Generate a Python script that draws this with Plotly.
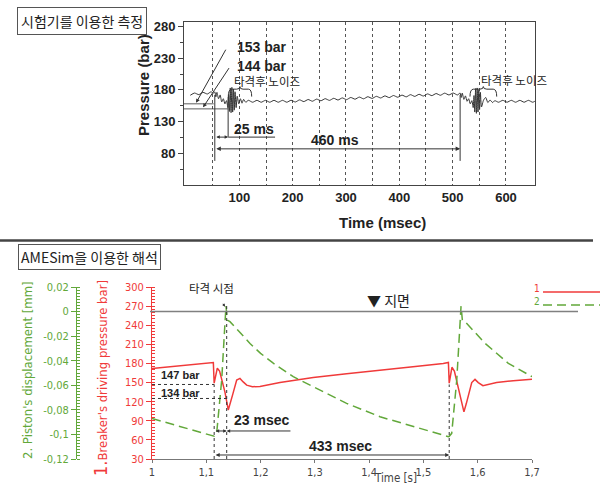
import plotly.graph_objects as go

# ---------------- data: top panel (measured pressure, bar vs ms) ----------------
pre_t = [8, 16, 24, 32, 40, 47, 51]
pre_p = [171.5, 175, 172.5, 176, 173.5, 177, 174.5]
hit1_t = [54, 56, 58, 61, 64, 67, 70, 73, 76, 78.5, 80, 81.5, 83, 84.5, 86, 87.5, 89, 90.5, 92, 94, 96, 99, 102, 105, 108, 112]
hit1_p = [177, 169, 176, 166, 172, 161, 166, 158, 163, 152, 172, 146, 183, 144, 184, 145, 181, 148, 177, 152, 170, 158, 166, 159, 165, 160.5]
mid_t = [117, 125, 133, 141, 149, 157, 165, 173, 181, 189, 197, 205, 213, 221, 229, 237, 245, 253, 261, 269,
         277, 285, 293, 301, 309, 317, 325, 333, 341, 349, 357, 365, 373, 381, 389, 397, 405, 413, 421, 429,
         437, 445, 453, 461, 469, 477, 485, 493, 501, 509]
mid_p = [163.5, 160.5, 163.5, 160.5, 163.5, 160.5, 163.5, 160.5, 163.5, 160.5,
         163.6, 160.9, 164.2, 161.5, 164.8, 162.1, 165.4, 162.8, 166.1, 163.4,
         166.7, 164.0, 167.3, 164.6, 168.0, 165.3, 168.6, 165.9, 169.2, 166.5,
         169.8, 167.2, 170.5, 167.8, 171.1, 168.4, 171.7, 169.0, 172.4, 169.7,
         173.0, 170.3, 173.6, 170.9, 174.2, 171.5, 174.8, 172.0, 175.0, 172.0]
hit2_t = [514, 516, 518, 521, 524, 527, 530, 533, 536, 538.5, 540, 541.5, 543, 544.5, 546, 547.5, 549, 550.5, 552, 554, 558, 562, 566, 570, 575, 579]
hit2_p = [175, 168, 175, 165, 170.5, 162, 166, 158, 163, 152, 171, 145, 182, 143, 183, 145, 180, 149, 176, 153, 164, 168, 160, 164, 160, 163]
post_t = [586, 594, 602, 610, 618, 626, 634, 642, 650, 654]
post_p = [160.5, 163.5, 160.5, 163.5, 160.5, 163.5, 160.5, 163.5, 160.5, 162]

top_x_ticks = [50, 100, 150, 200, 250, 300, 350, 400, 450, 500, 550, 600]
top_x_labels = ["", "100", "", "200", "", "300", "", "400", "", "500", "", "600"]
top_y_ticks = [80, 130, 180, 230, 280]
top_y_minor = [55, 105, 155, 205, 255]

# ---------------- data: bottom panel (AMESim) ----------------
pres_t = [1.0, 1.05, 1.1, 1.113, 1.1145, 1.1203, 1.1245, 1.1284, 1.1344, 1.1405, 1.1446, 1.1486, 1.156, 1.162,
          1.168, 1.1744, 1.185, 1.1989, 1.2357, 1.2665, 1.297, 1.3585, 1.42, 1.4807, 1.5365, 1.546, 1.5475,
          1.5525, 1.557, 1.561, 1.567, 1.5746, 1.579, 1.583, 1.589, 1.595, 1.601, 1.6096, 1.62, 1.6348, 1.6654, 1.7]
pres_v = [172, 176.5, 180.5, 181.5, 149, 172.5, 168, 154, 135, 107, 118, 131, 154, 156.5,
          151, 146, 143.5, 144, 150, 154, 158, 164, 169, 175, 180, 181.5, 149,
          174, 168, 153, 135, 104, 117, 131, 150, 155, 150, 145, 147, 150, 153, 155]
disp_t = [1.0, 1.0516, 1.113, 1.1145, 1.1191, 1.1284, 1.1344, 1.1363, 1.1387, 1.1436, 1.16, 1.1805, 1.2,
          1.2234, 1.2602, 1.3, 1.3585, 1.42, 1.4807, 1.546, 1.5475, 1.5521, 1.5614, 1.5674, 1.5693, 1.5717,
          1.5766, 1.6135, 1.6564, 1.7]
disp_v = [-0.087, -0.0937, -0.1018, -0.1015, -0.0991, -0.0557, -0.0095, 0.0045, -0.0069, -0.0082, -0.016, -0.026, -0.034,
          -0.042, -0.053, -0.062, -0.0747, -0.0856, -0.0937, -0.1018, -0.1015, -0.0991, -0.0557, -0.0095, 0.0045, -0.0069,
          -0.0082, -0.0258, -0.0421, -0.053]

t_ticks = [1.0, 1.1, 1.2, 1.3, 1.4, 1.5, 1.6, 1.7]
t_ticktext = ["1", "1,1", "1,2", "1,3", "1,4", "1,5", "1,6", "1,7"]
p_ticks = [30, 60, 90, 120, 150, 180, 210, 240, 270, 300]
d_ticks = [-0.12, -0.1, -0.08, -0.06, -0.04, -0.02, 0, 0.02]
d_ticktext = ["-0,12", "-0,1", "-0,08", "-0,06", "-0,04", "-0,02", "0", "0,02"]

# ---------------- styling ----------------
W, H = 600, 486
RED = "#f03a3a"
GREEN = "#62a83a"
DARK = "#333333"
SANS = "Liberation Sans, Arial, sans-serif"
NARROW = "Liberation Sans Narrow, DejaVu Sans Condensed, Liberation Sans, sans-serif"
KR = "Noto Sans CJK KR, sans-serif"


def px(x):
    return x / W


def py(y):
    return 1 - y / H


fig = go.Figure()
fig.add_trace(go.Scatter(
    x=pre_t + hit1_t + mid_t + hit2_t + post_t,
    y=pre_p + hit1_p + mid_p + hit2_p + post_p,
    mode="lines", line=dict(color=DARK, width=1, shape="spline", smoothing=0.6),
    xaxis="x", yaxis="y", showlegend=False, hoverinfo="skip"))
fig.add_trace(go.Scatter(x=pres_t, y=pres_v, mode="lines", line=dict(color=RED, width=1.5),
                         xaxis="x2", yaxis="y2", showlegend=False, hoverinfo="skip"))
fig.add_trace(go.Scatter(x=disp_t, y=disp_v, mode="lines", line=dict(color=GREEN, width=1.5, dash="9px,5px"),
                         xaxis="x2", yaxis="y3", showlegend=False, hoverinfo="skip"))

bold13 = dict(family=SANS, size=13, color="#222", weight="bold")
fig.update_layout(
    width=W, height=H, margin=dict(l=0, r=0, t=0, b=0, autoexpand=False),
    paper_bgcolor="white", plot_bgcolor="rgba(0,0,0,0)",
    font=dict(family=SANS, color="#222"),
    xaxis=dict(domain=[px(184), px(535)], range=[-3.75, 654.4], anchor="y",
               tickmode="array", tickvals=top_x_ticks, ticktext=top_x_labels, ticks="",
               showgrid=True, gridcolor="#555", griddash="3px,3px", gridwidth=1,
               showline=True, mirror=True, linecolor="#444", linewidth=1, zeroline=False,
               tickfont=bold13, automargin=False),
    yaxis=dict(domain=[py(185), py(22)], range=[30, 287], anchor="x",
               tickmode="array", tickvals=top_y_ticks, ticks="outside", ticklen=5, tickcolor="#444",
               minor=dict(tickmode="array", tickvals=top_y_minor, ticks="outside", ticklen=3, tickcolor="#444"),
               showgrid=False, showline=True, mirror=True, linecolor="#444", linewidth=1, zeroline=False,
               tickfont=bold13, automargin=False),
    xaxis2=dict(domain=[px(152), px(532)], range=[1.0, 1.7], anchor="y2",
                tickmode="array", tickvals=t_ticks, ticktext=t_ticktext, ticks="outside", ticklen=3,
                tickcolor="#777", showline=True, linecolor="#777", linewidth=1, showgrid=False, zeroline=False,
                tickfont=dict(family=NARROW, size=11, color="#444"), automargin=False),
    yaxis2=dict(domain=[py(459), py(287)], range=[30, 300], anchor="x2",
                tickmode="array", tickvals=p_ticks, ticks="outside", ticklen=5, tickcolor=RED,
                minor=dict(tickmode="linear", tick0=30, dtick=5, ticks="inside", ticklen=3, tickcolor=RED),
                showline=True, linecolor=RED, linewidth=1, showgrid=False, zeroline=False,
                tickfont=dict(family=NARROW, size=11, color=RED), automargin=False),
    yaxis3=dict(overlaying="y2", anchor="free", position=px(76), side="left", range=[-0.12, 0.02],
                tickmode="array", tickvals=d_ticks, ticktext=d_ticktext, ticks="outside", ticklen=5,
                tickcolor=GREEN,
                minor=dict(tickmode="linear", tick0=-0.12, dtick=0.0025, ticks="inside", ticklen=3, tickcolor=GREEN),
                showline=True, linecolor=GREEN, linewidth=1, showgrid=False, zeroline=False,
                tickfont=dict(family=NARROW, size=11, color=GREEN), automargin=False),
)

shapes = []
ann = []


def line(x0, y0, x1, y1, xref, yref, color=DARK, width=1, dash="solid"):
    shapes.append(dict(type="line", x0=x0, y0=y0, x1=x1, y1=y1, xref=xref, yref=yref,
                       line=dict(color=color, width=width, dash=dash)))


def arrow(xh, yh, xt, yt, xr, yr, both=False, color=DARK, size=0.9):
    ann.append(dict(x=xh, y=yh, ax=xt, ay=yt, xref=xr, yref=yr, axref=xr, ayref=yr, text="",
                    showarrow=True, arrowhead=2, arrowsize=size, arrowwidth=1, arrowcolor=color,
                    arrowside="end+start" if both else "end", startarrowhead=2, startarrowsize=size))


def text(x, y, s, xr, yr, size=13, color="#222", family=SANS, xanchor="center", angle=0, **kw):
    ann.append(dict(x=x, y=y, xref=xr, yref=yr, text=s, showarrow=False, xanchor=xanchor,
                    yanchor="middle", textangle=angle, font=dict(family=family, size=size, color=color), **kw))


# ---- top panel annotations ----
line(54, 68, 54, 172, "x", "y")
line(514, 68, 514, 172, "x", "y")
line(79, 106, 79, 169, "x", "y")
line(-3.75, 158, 52, 158, "x", "y", width=0.8)
line(-3.75, 150, 79, 150, "x", "y", width=0.8)
line(79, 105.5, 167, 105.5, "x", "y")
arrow(79, 105.5, 54, 105.5, "x", "y", both=True, size=0.7)
arrow(514, 87, 54, 87, "x", "y", both=True)
arrow(18.8, 159.5, 76.1, 245.7, "x", "y", size=0.8)
arrow(31.9, 152.4, 82.5, 216.7, "x", "y", size=0.8)
text(92, 247.5, "<b>153 bar</b>", "x", "y", size=14, xanchor="left")
text(92, 217.8, "<b>144 bar</b>", "x", "y", size=14, xanchor="left")
text(87, 194, "타격후 노이즈", "x", "y", size=11.5, family=KR, xanchor="left")
text(549, 195.7, "타격후 노이즈", "x", "y", size=11.5, family=KR, xanchor="left")
text(127.5, 118.6, "<b>25 ms</b>", "x", "y", size=14)
text(279, 101, "<b>460 ms</b>", "x", "y", size=14)
shapes.append(dict(type="path", xref="x", yref="y", line=dict(color=DARK, width=1),
                   path="M 79.3,169.4 Q 79.3,181.1 86,181.1 L 95,181.1 Q 101,181.1 101,185.2 "
                        "Q 101,181.1 107,181.1 L 117,181.1 Q 123.2,181.1 123.2,169.4"))
shapes.append(dict(type="path", xref="x", yref="y", line=dict(color=DARK, width=1),
                   path="M 532.5,169.4 Q 532.5,181.1 539,181.1 L 551,181.1 Q 557.5,181.1 557.5,185.2 "
                        "Q 557.5,181.1 564,181.1 L 576,181.1 Q 582.6,181.1 582.6,169.4"))
text(px(143), py(85), "<b>Pressure (bar)</b>", "paper", "paper", size=15, angle=-90)
text(px(382), py(223), "<b>Time (msec)</b>", "paper", "paper", size=15)

# ---- section titles and separator ----
ann.append(dict(x=px(82), y=py(20.5), xref="paper", yref="paper", xanchor="center", yanchor="middle",
                text="시험기를 이용한 측정", showarrow=False,
                font=dict(family=KR, size=14, color="#222"), bordercolor="#555", borderwidth=1, borderpad=3,
                bgcolor="white"))
ann.append(dict(x=px(89), y=py(256.5), xref="paper", yref="paper", xanchor="center", yanchor="middle",
                text="AMESim을 이용한 해석", showarrow=False,
                font=dict(family=KR, size=14, color="#222"), bordercolor="#555", borderwidth=1, borderpad=2,
                bgcolor="white"))
line(0, py(240.5), px(593), py(240.5), "paper", "paper", color="#444", width=2.5)

# ---- bottom panel annotations ----
line(px(150), 0, px(578), 0, "paper", "y3", color="#808080", width=1.5)
line(1.1145, 30, 1.1145, 147, "x2", "y2", dash="dot")
line(1.1376, 30, 1.1376, 270, "x2", "y2", dash="dot")
line(1.5475, 30, 1.5475, 147, "x2", "y2", dash="dot")
line(1.0, 147, 1.1145, 147, "x2", "y2", dash="dot")
line(1.0, 125, 1.1376, 125, "x2", "y2", dash="dot")
arrow(1.1376, 74, 1.1145, 74, "x2", "y2", both=True, size=0.7)
arrow(1.1376, 74, 1.2578, 74, "x2", "y2", size=0.7)
arrow(1.5475, 36.3, 1.1145, 36.3, "x2", "y2", both=True, size=0.8)
arrow(1.1344, 269, 1.1295, 276, "x2", "y2", size=0.6)
text(1.0516, 161.9, "<b>147 bar</b>", "x2", "y2", size=11)
text(1.0516, 133.6, "<b>134 bar</b>", "x2", "y2", size=11)
text(1.2026, 91.2, "<b>23 msec</b>", "x2", "y2", size=14)
text(1.348, 50.4, "<b>433 msec</b>", "x2", "y2", size=14)
text(1.1105, 298.4, "타격 시점", "x2", "y2", size=11.5, family=KR)
text(1.392, 279.6, "▼ 지면", "x2", "y2", size=14, family=KR, xanchor="left")
text(px(27), py(370), "2. Piston's displacement [mm]", "paper", "paper", size=13, color=GREEN,
     family=NARROW, angle=-90)
text(px(100), py(378), "<span style='font-size:18px'>1.</span>Breaker's driving pressure bar]", "paper", "paper",
     size=13, color=RED, family=NARROW, angle=-90)
text(px(395), py(478), "Time [s]", "paper", "paper", size=11.5, color="#444", family=NARROW)

# legend
line(px(543), py(292), px(600), py(292), "paper", "paper", color=RED, width=1.5)
line(px(543), py(305), px(600), py(305), "paper", "paper", color=GREEN, width=1.5, dash="9px,5px")
text(px(537), py(288), "1", "paper", "paper", size=10, color=RED, family=NARROW)
text(px(537), py(301), "2", "paper", "paper", size=10, color=GREEN, family=NARROW)

fig.update_layout(shapes=shapes, annotations=ann)
fig.write_html("out.html", config={"displayModeBar": False},
               post_script="document.body.style.margin='0px';document.body.style.overflow='hidden';")
